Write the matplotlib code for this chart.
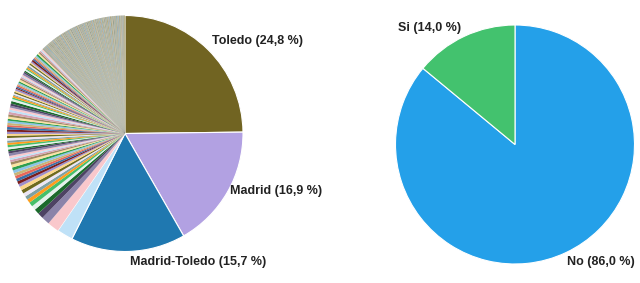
import matplotlib.pyplot as plt

# ===============================
# Datos
# ===============================
principales = ['Toledo', 'Madrid', 'Madrid-Toledo']
principales_pct = [24.8, 16.9, 15.7]

# resto de localidades (muchas porciones pequeñas)
otros_grandes = [2.2, 1.6, 1.1, 0.8, 0.7, 0.6, 0.6, 0.5, 0.5, 0.5,
                 0.5, 0.5, 0.4, 0.4, 0.4, 0.4, 0.4, 0.4, 0.4, 0.4]
otros_medios = [0.35, 0.3, 0.25, 0.3, 0.35, 0.3, 0.25, 0.3, 0.3, 0.3,
                0.3, 0.35, 0.3, 0.25, 0.3, 0.3, 0.35, 0.25, 0.3, 0.3,
                0.25, 0.3, 0.3, 0.35, 0.3, 0.3, 0.25, 0.3, 0.35, 0.3]
otros_pequenos = [0.2, 0.25, 0.15, 0.2, 0.2, 0.2, 0.25, 0.15, 0.2, 0.2,
                  0.15, 0.2, 0.2, 0.25, 0.2, 0.2, 0.15, 0.2, 0.25, 0.2,
                  0.2, 0.2, 0.15, 0.2, 0.25, 0.2, 0.2, 0.15, 0.2, 0.25,
                  0.2, 0.15, 0.2, 0.2, 0.25, 0.2, 0.2, 0.2, 0.15, 0.2]
otros_minimos = [0.1, 0.12, 0.08, 0.1, 0.1, 0.1, 0.12, 0.08, 0.1, 0.1,
                 0.08, 0.1, 0.12, 0.1, 0.1, 0.08, 0.1, 0.12, 0.1, 0.1,
                 0.1, 0.08, 0.1, 0.1, 0.12, 0.1, 0.1, 0.08, 0.12, 0.1,
                 0.12, 0.1, 0.08, 0.1, 0.1, 0.1, 0.12, 0.1, 0.08, 0.1,
                 0.1, 0.1, 0.12, 0.08, 0.1, 0.1, 0.12, 0.1, 0.08, 0.1,
                 0.08, 0.12, 0.1, 0.1, 0.1, 0.12, 0.08, 0.1, 0.1, 0.1,
                 0.1, 0.1, 0.08, 0.12, 0.1, 0.1, 0.1, 0.08, 0.12, 0.1,
                 0.12, 0.08, 0.1, 0.1, 0.1, 0.1, 0.12, 0.08, 0.1, 0.1,
                 0.1, 0.12, 0.1, 0.08, 0.1, 0.1, 0.08, 0.1, 0.12, 0.1,
                 0.1, 0.1, 0.12, 0.08, 0.1, 0.1, 0.1, 0.08, 0.12, 0.1,
                 0.08, 0.1, 0.1, 0.12, 0.1, 0.1, 0.12, 0.1, 0.08, 0.1,
                 0.1, 0.12, 0.08, 0.1, 0.1, 0.1, 0.1, 0.12, 0.08, 0.1,
                 0.1, 0.1, 0.1]

respuestas = ['No', 'Si']
respuestas_pct = [86.0, 14.0]

# ===============================
# Colores
# ===============================
colores_principales = ['#716422', '#b2a1e2', '#1f78b0']
paleta = ['#bfe1f7', '#f9c8cc', '#8b83a9', '#4d4264', '#1b6a2c', '#e4f1ec',
          '#46bf6a', '#ff9d1c', '#7fa1a2', '#ece6f4', '#6e6a1e', '#fcd68a',
          '#9d8dcb', '#7a1c1c', '#3b6fa6', '#e8685a', '#c8b478', '#8bc4e8',
          '#2e9e4e', '#fbe3a1', '#a08860', '#d4a0b0']
# porciones muy finas: tonos apagados (se mezclan en gris/caqui)
paleta_fina = ['#9c9878', '#8fa49a', '#ae9e6c', '#80a0ae', '#b6a47e', '#98988e',
               '#86aebc', '#a4946a', '#9caa92', '#bcac90', '#84927c', '#a8a8a0']
otros = otros_grandes + otros_medios + otros_pequenos + otros_minimos
valores = principales_pct + otros
n_color = len(otros_grandes) + len(otros_medios) + len(otros_pequenos)
colores = (colores_principales
           + [paleta[i % len(paleta)] for i in range(n_color)]
           + [paleta_fina[i % len(paleta_fina)] for i in range(len(otros_minimos))])

W, H = 640, 283
fig = plt.figure(figsize=(W / 100, H / 100), dpi=100)


def eje(cx, cy, r):
    return fig.add_axes([(cx - r) / W, (H - cy - r) / H, 2 * r / W, 2 * r / H])


# ===============================
# Pie izquierdo
# ===============================
ax1 = eje(125, 133.5, 118)
wedges, _ = ax1.pie(valores, colors=colores, startangle=90, counterclock=False,
                    wedgeprops=dict(linewidth=0))
for i, w in enumerate(wedges):
    if i < 4:
        w.set_edgecolor('white')
        w.set_linewidth(0.8)
ax1.set_xlim(-1, 1)
ax1.set_ylim(-1, 1)

# ===============================
# Pie derecho
# ===============================
ax2 = eje(515, 144.5, 119.5)
ax2.pie(respuestas_pct, colors=['#24a0e9', '#43c26e'], startangle=90, counterclock=False,
        wedgeprops=dict(edgecolor='white', linewidth=0.8))
ax2.set_xlim(-1, 1)
ax2.set_ylim(-1, 1)

# ===============================
# Etiquetas
# ===============================
etiquetas = [
    (212, 41, f"{principales[0]} ({principales_pct[0]:.1f} %)"),
    (230, 191, f"{principales[1]} ({principales_pct[1]:.1f} %)"),
    (130, 262, f"{principales[2]} ({principales_pct[2]:.1f} %)"),
    (398, 28, f"{respuestas[1]} ({respuestas_pct[1]:.1f} %)"),
    (567, 262, f"{respuestas[0]} ({respuestas_pct[0]:.1f} %)"),
]
for x, y, t in etiquetas:
    fig.text(x / W, 1 - y / H, t.replace('.', ','), ha='left', va='center',
             fontsize=9, fontweight='bold', color='#222222', family='Liberation Sans')

plt.savefig('out.png', dpi=100)
